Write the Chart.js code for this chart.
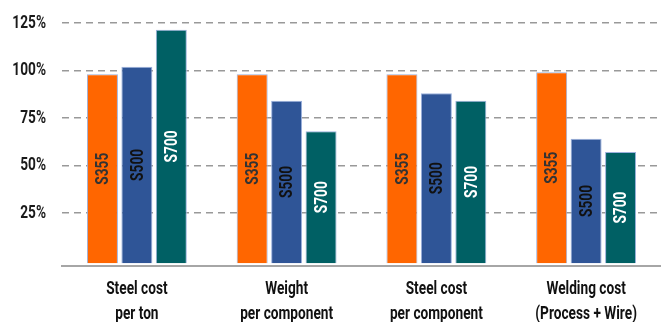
<!DOCTYPE html>
<html>
<head>
<meta charset="utf-8">
<script src="https://cdn.jsdelivr.net/npm/chart.js@4.4.0/dist/chart.umd.min.js"></script>
<style>
  body { margin: 0; background: #fff; }
  #wrap { width: 661px; height: 322px; position: relative; }
</style>
</head>
<body>
<div id="wrap"><canvas id="myChart"></canvas></div>
<script>
// Kategorien und Werte (in % bezogen auf S355)
const categories = [
    ['Steel cost', 'per ton'],
    ['Weight', 'per component'],
    ['Steel cost', 'per component'],
    ['Welding cost', '(Process + Wire)']
];
const grades = ['S355', 'S500', 'S700'];
const s355 = [98, 98, 98, 99];
const s500 = [102, 84, 88, 64];
const s700 = [121.5, 68, 84, 57];
const yTicks = [25, 50, 75, 100, 125];

const fontFam = "Roboto, 'DejaVu Sans', sans-serif";
const squeeze = 0.72; // schmale Schrift nachbilden

// Text horizontal gestaucht zeichnen
function drawNarrow(ctx, text, x, y, size, color, align) {
    ctx.save();
    ctx.font = 'bold ' + size + 'px ' + fontFam;
    ctx.fillStyle = color;
    ctx.textAlign = align;
    ctx.textBaseline = 'middle';
    ctx.translate(x, y);
    ctx.scale(squeeze, 1);
    ctx.fillText(text, 0, 0);
    ctx.restore();
}

// Achsenbeschriftungen und senkrechte Balkentexte
const labelsPlugin = {
    id: 'labelsPlugin',
    afterDatasetsDraw(chart) {
        const ctx = chart.ctx;
        chart.data.datasets.forEach((ds, i) => {
            const meta = chart.getDatasetMeta(i);
            meta.data.forEach(bar => {
                const p = bar.getProps(['x', 'y', 'base'], true);
                ctx.save();
                ctx.translate(p.x + 1, (p.y + p.base) / 2);
                ctx.rotate(-Math.PI / 2);
                drawNarrow(ctx, ds.label, 0, 0, 19, ds.textColor, 'center');
                ctx.restore();
            });
        });
    },
    afterDraw(chart) {
        const ctx = chart.ctx;
        const yS = chart.scales.y, xS = chart.scales.x;
        yTicks.forEach(v => {
            drawNarrow(ctx, v + '%', 46, yS.getPixelForValue(v), 19, '#1a1a1a', 'right');
        });
        categories.forEach((lines, i) => {
            const x = xS.getPixelForTick(i);
            lines.forEach((t, k) => {
                drawNarrow(ctx, t, x, chart.chartArea.bottom + 23 + k * 25, 19, '#111', 'center');
            });
        });
    }
};

const colors = ['#ff6600', '#2f5597', '#006064'];
const textColors = ['#333333', '#111111', '#ffffff'];
const series = [s355, s500, s700];

var ctx = document.getElementById('myChart').getContext('2d');
var myChart = new Chart(ctx, {
    type: 'bar',
    data: {
        labels: categories,
        datasets: grades.map((g, i) => ({
            label: g,
            data: series[i],
            backgroundColor: colors[i],
            borderColor: '#9bb1dd',
            borderWidth: 1,
            base: -1.5,
            textColor: textColors[i],
            barPercentage: 0.9,
            categoryPercentage: 0.69
        }))
    },
    options: {
        responsive: true,
        maintainAspectRatio: false,
        animation: false,
        layout: { padding: { top: 23, right: 0, left: 62, bottom: 56 } },
        plugins: {
            legend: { display: false },
            tooltip: { enabled: false }
        },
        scales: {
            x: {
                grid: { display: false, drawTicks: false },
                border: { display: true, color: '#a6a6a6', width: 2 },
                ticks: { display: false }
            },
            y: {
                min: -3,
                max: 125,
                afterBuildTicks: axis => {
                    axis.ticks = yTicks.map(v => ({ value: v }));
                },
                grid: { color: '#999', lineWidth: 1.5, drawTicks: false },
                border: { display: false, dash: [7, 5] },
                ticks: { display: false }
            }
        }
    },
    plugins: [labelsPlugin]
});
</script>
</body>
</html>
